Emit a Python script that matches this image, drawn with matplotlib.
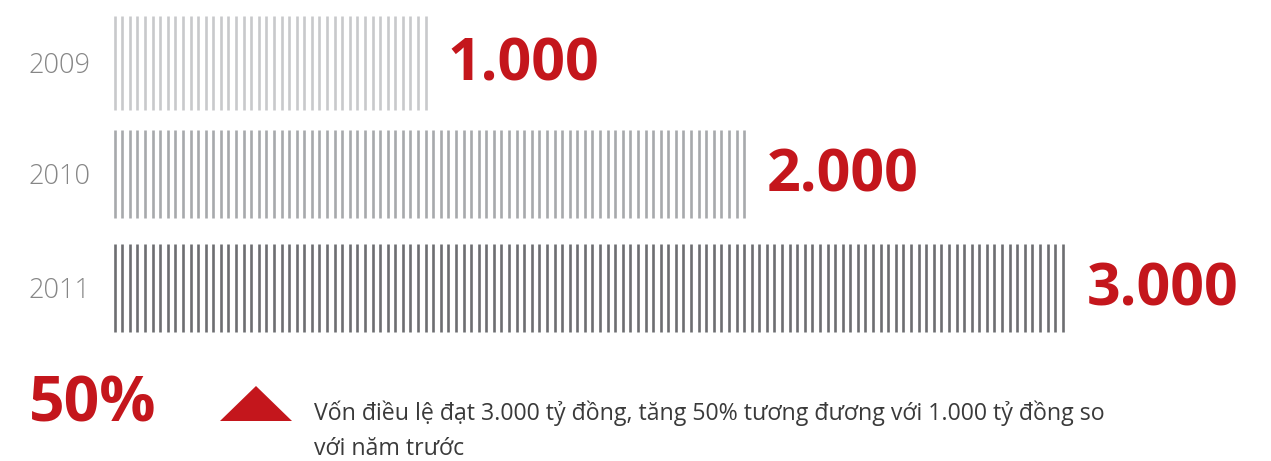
import numpy as np
import matplotlib
matplotlib.use("Agg")
import matplotlib.pyplot as plt
from matplotlib.patches import Polygon

# ---- data ----
years = ["2009", "2010", "2011"]
values = [1000, 2000, 3000]
value_labels = ["1.000", "2.000", "3.000"]
growth_label = "50%"
note_lines = ["Vốn điều lệ đạt 3.000 tỷ đồng, tăng 50% tương đương với 1.000 tỷ đồng so",
              "với năm trước"]

# ---- style / layout ----
stripe_colors = ["#c8c9cb", "#a7a9ac", "#6d6e71"]
red = "#c4161c"
year_color = "#868686"
text_color = "#3a3a3a"
W, H, DPI = 1271, 461, 100
X0_PX = 107.0        # pixel of value 0
PX_PER_UNIT = 0.32   # pixels per value unit
STRIPE_START = 24.0  # value units
STRIPE_STEP = 23.7   # value units
bar_tops = [16, 130, 244]
bar_bottoms = [110, 218, 332]

plt.rcParams['font.family'] = ['Open Sans', 'DejaVu Sans']

fig = plt.figure(figsize=(W / DPI, H / DPI), dpi=DPI)
ax = fig.add_axes([0, 0, 1, 1])
ax.set_xlim(-X0_PX / PX_PER_UNIT, (W - X0_PX) / PX_PER_UNIT)
ax.set_ylim(H, 0)
ax.axis("off")

def px(x):
    return (x - X0_PX) / PX_PER_UNIT

for i, (yr, v, lab) in enumerate(zip(years, values, value_labels)):
    xs = np.arange(STRIPE_START, v, STRIPE_STEP)
    ax.vlines(xs, bar_tops[i], bar_bottoms[i], colors=stripe_colors[i], linewidth=1.9)
    yc = (bar_tops[i] + bar_bottoms[i]) / 2
    ax.text(px(90), yc + 3, yr, ha="right", va="center", fontsize=19.5,
            color=year_color, fontweight="light")
    ax.text(v + px(107 + 20), yc + 2, lab, ha="left", va="center", fontsize=42.5,
            color=red, fontweight="bold")

ax.text(px(29), 405, growth_label, ha="left", va="center", fontsize=45,
        color=red, fontweight="bold")

tri = Polygon([(px(220), 421), (px(292), 421), (px(256), 386)], closed=True,
              facecolor=red, edgecolor="none")
ax.add_patch(tri)

ax.text(px(314), 420, note_lines[0], ha="left", va="baseline", fontsize=16.7,
        color=text_color)
ax.text(px(314), 455, note_lines[1], ha="left", va="baseline", fontsize=16.7,
        color=text_color)

fig.savefig("out.png", dpi=DPI)
